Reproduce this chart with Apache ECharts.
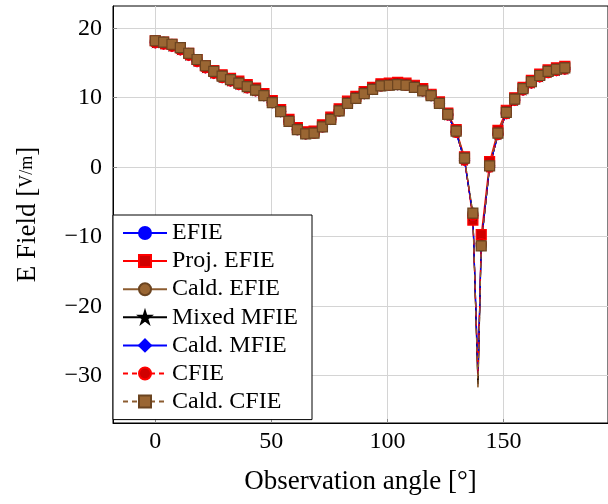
<!DOCTYPE html>
<html>
<head>
<meta charset="utf-8">
<script src="https://cdn.jsdelivr.net/npm/echarts@6/dist/echarts.min.js"></script>
<style>
  html, body { margin: 0; padding: 0; background: #fff; }
  #chart { width: 608px; height: 504px; }
</style>
</head>
<body>
<div id="chart"></div>
<script>
// observation angles (deg)
const angles = [0, 3.6, 7.2, 10.8, 14.4, 18, 21.6, 25.2, 28.8, 32.4,
  36, 39.6, 43.2, 46.8, 50.4, 54, 57.6, 61.2, 64.8, 68.4,
  72, 75.6, 79.2, 82.8, 86.4, 90, 93.6, 97.2, 100.8, 104.4,
  108, 111.6, 115.2, 118.8, 122.4, 126, 129.6, 133.2, 136.8, 140.4,
  144, 147.6, 151.2, 154.8, 158.4, 162, 165.6, 169.2, 172.8, 176.4];

// E field [V/m]
const efieE = [17.9, 17.7, 17.4, 16.9, 16.1, 15.2, 14.3, 13.5, 12.9, 12.4,
  11.9, 11.4, 11.0, 10.3, 9.3, 8.0, 6.6, 5.4, 4.8, 4.9,
  5.8, 6.9, 8.1, 9.2, 9.9, 10.6, 11.2, 11.7, 11.8, 11.9,
  11.8, 11.5, 11.0, 10.3, 9.2, 7.5, 5.0, 1.0, -6.9, -11.0,
  0.0, 4.7, 7.7, 9.6, 11.1, 12.1, 13.0, 13.6, 13.9, 14.1];
const projEfieE = [18.2, 18.0, 17.7, 17.2, 16.4, 15.5, 14.6, 13.9, 13.3, 12.8,
  12.4, 11.9, 11.4, 10.6, 9.6, 8.3, 6.9, 5.7, 5.1, 5.2,
  6.1, 7.2, 8.4, 9.5, 10.2, 10.9, 11.5, 12.0, 12.1, 12.2,
  12.1, 11.8, 11.3, 10.5, 9.4, 7.8, 5.4, 1.5, -7.6, -9.7,
  0.8, 5.3, 8.2, 10.0, 11.5, 12.5, 13.4, 14.0, 14.3, 14.5];
const caldE = [18.2, 18.0, 17.7, 17.2, 16.4, 15.5, 14.6, 13.8, 13.1, 12.6,
  12.1, 11.6, 11.1, 10.3, 9.3, 8.0, 6.6, 5.4, 4.8, 4.9,
  5.8, 6.9, 8.1, 9.2, 9.9, 10.6, 11.2, 11.7, 11.8, 11.9,
  11.8, 11.5, 11.0, 10.3, 9.2, 7.6, 5.2, 1.3, -6.6, -11.3,
  0.2, 4.9, 7.9, 9.8, 11.3, 12.3, 13.2, 13.8, 14.1, 14.3];

// deep null between two samples
const nullAngle = 139.0;
const nullDepth = [-29.8, -30.6, -31.6, -31.2, -29.6, -29.8, -31.8];

const names = ['EFIE', 'Proj. EFIE', 'Cald. EFIE', 'Mixed MFIE', 'Cald. MFIE', 'CFIE', 'Cald. CFIE'];
const yTicks = [-30, -20, -10, 0, 10, 20];
const xTicks = [0, 50, 100, 150];

const FONT = 'Liberation Serif';
const FS = 24;   // ticks + legend
const FT = 27;   // axis titles
const BROWN = '#8c5c30';
const STAR = 'path://M0,-10L2.2,-3.1L9.5,-3.1L3.6,1.2L5.9,8.1L0,3.8L-5.9,8.1L-3.6,1.2L-9.5,-3.1L-2.2,-3.1Z';

function build(vals, depth) {
  const out = [];
  for (let i = 0; i < angles.length; i++) {
    out.push([angles[i], vals[i]]);
    if (angles[i] < nullAngle && angles[i + 1] > nullAngle) {
      out.push({ value: [nullAngle, depth], symbol: 'none' });
    }
  }
  return out;
}

function mk(idx, vals, color, dash, symbol, size, fill, border) {
  return {
    name: names[idx],
    type: 'line',
    data: build(vals, nullDepth[idx]),
    symbol: symbol,
    symbolSize: size,
    showAllSymbol: true,
    lineStyle: { color: color, width: 1.2, type: dash ? [5, 4] : 'solid' },
    itemStyle: { color: fill, borderColor: border, borderWidth: 1.2 },
    emphasis: { disabled: true }
  };
}

const chart = echarts.init(document.getElementById('chart'), null, { renderer: 'canvas' });

const minus = v => String(v).replace('-', '\u2212');

chart.setOption({
  animation: false,
  backgroundColor: '#fff',
  textStyle: { fontFamily: FONT },
  grid: { left: 113, top: 6, width: 495, height: 417, show: true, borderColor: '#000', borderWidth: 1, backgroundColor: 'transparent' },
  xAxis: [{
    type: 'value', min: -18.2, max: 195,
    name: 'Observation angle [°]', nameLocation: 'middle', nameGap: 45,
    nameTextStyle: { fontFamily: FONT, fontSize: FT, color: '#000' },
    axisLine: { show: true, onZero: false, lineStyle: { color: '#000', width: 1 } },
    axisTick: { show: true, inside: true, length: 4, lineStyle: { color: '#888' }, customValues: xTicks },
    axisLabel: { fontFamily: FONT, fontSize: FS, color: '#000', margin: 7, customValues: xTicks, formatter: minus },
    splitLine: { show: true, lineStyle: { color: '#d4d4d4', width: 1 } }
  }],
  yAxis: [{
    type: 'value', min: -36.8, max: 23.2,
    name: '{a|E Field [}{f|V/m}{a|]}', nameLocation: 'middle', nameGap: 72, nameRotate: 90,
    nameTextStyle: { rich: { a: { fontFamily: FONT, fontSize: FT, color: '#000' }, f: { fontFamily: FONT, fontSize: 18, color: '#000' } } },
    axisLine: { show: true, onZero: false, lineStyle: { color: '#000', width: 1 } },
    axisTick: { show: true, inside: true, length: 4, lineStyle: { color: '#888' }, customValues: yTicks },
    axisLabel: { fontFamily: FONT, fontSize: FS, color: '#000', margin: 11, customValues: yTicks, formatter: minus },
    splitLine: { show: true, lineStyle: { color: '#d4d4d4', width: 1 } }
  }],
  legend: {
    orient: 'vertical', left: 113, top: 215,
    padding: [6, 14, 6, 9],
    itemGap: 4.1,
    itemWidth: 44, itemHeight: 15,
    backgroundColor: '#fff', borderColor: '#000', borderWidth: 1, borderRadius: 0,
    textStyle: { fontFamily: FONT, fontSize: FS, color: '#000', lineHeight: 24 },
    selectedMode: false,
    data: names
  },
  series: [
    mk(0, efieE, '#0000ff', false, 'circle', 9, '#0000ff', '#0000ff'),
    mk(1, projEfieE, '#ff0000', false, 'rect', 10, '#d00000', '#ff0000'),
    mk(2, caldE, BROWN, false, 'circle', 10, '#9a6633', '#6b4420'),
    mk(3, efieE, '#000000', false, STAR, 8, '#000000', '#000000'),
    mk(4, efieE, '#0000ff', false, 'diamond', 10, '#0000ff', '#0000ff'),
    mk(5, efieE, '#ff0000', true, 'circle', 10, '#d00000', '#ff0000'),
    mk(6, caldE, BROWN, true, 'rect', 10, '#9a6633', '#6b4420')
  ]
});
</script>
</body>
</html>
